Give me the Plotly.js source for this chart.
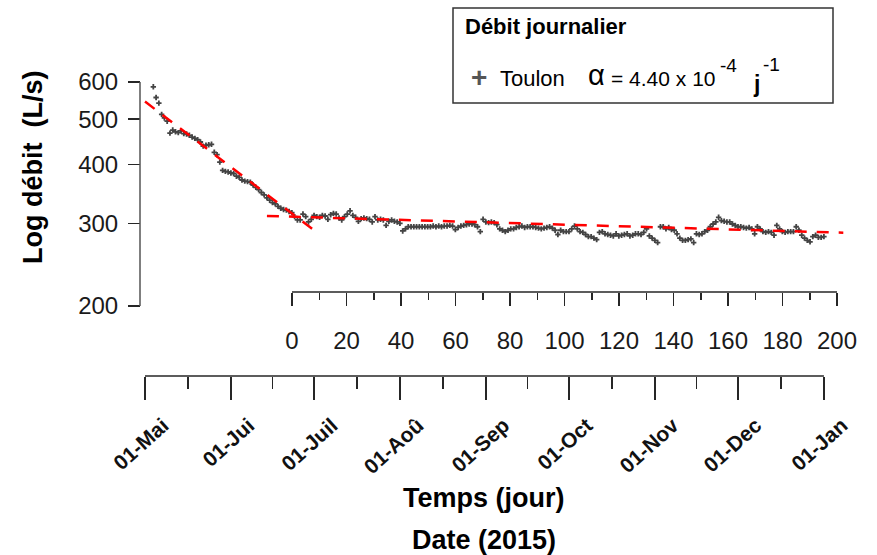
<!DOCTYPE html>
<html>
<head>
<meta charset="utf-8">
<script src="https://cdn.plot.ly/plotly-3.0.1.min.js"></script>
<style>html,body{margin:0;padding:0;background:#fff;}#chart{width:877px;height:555px;}</style>
</head>
<body>
<div id="chart"></div>
<script>
// ---- data (daily discharge, L/s), day 0 = 01 May 2015 ----
const firstDay = 3;
const discharge = [
 586,556,541,512,503,495,467,474,470,468,472,466,465,462,458,455,452,447,438,440,
 441,442,425,420,405,389,387,386,384,383,378,376,371,369,368,367,362,358,354,349,
 345,340,336,332,330,326,323,321,320,318,316,310,305,305,314,310,302,306,312,310,
 309,312,311,306,313,315,314,308,305,310,314,319,312,309,303,307,308,307,306,302,
 310,305,306,305,297,303,305,303,302,300,289,292,295,295,295,295,295,295,295,295,
 295,296,295,296,295,296,296,297,296,291,294,296,297,298,299,299,298,295,288,306,
 302,301,302,301,298,292,290,288,290,292,292,294,295,296,294,295,295,295,294,293,
 292,293,294,295,293,290,284,290,288,288,288,292,296,292,288,287,284,281,281,279,
 277,287,288,285,284,283,282,285,282,283,284,285,282,283,285,285,284,287,292,282,
 279,276,273,295,295,292,294,291,290,285,279,276,276,277,278,273,285,284,285,288,
 290,295,299,302,309,304,303,302,302,299,297,295,295,294,293,294,292,285,295,292,
 288,287,288,287,283,297,292,288,287,288,288,288,295,290,283,279,276,274,281,283,
 280,280,281
];
const days = discharge.map((_, i) => firstDay + i);

// recession fits (red dashed lines)
const fit1Days = [0, 61.3];
const fit1Q = [545, 289];
const fit2Days = [44, 252];
const fit2Q = [311, 286.5];

// axes ticks
const yTicks = [200, 300, 400, 500, 600];
const dayTicks = [0, 20, 40, 60, 80, 100, 120, 140, 160, 180, 200];
const dayMinor = [10, 30, 50, 70, 90, 110, 130, 150, 170, 190];
const monthTicks = [0, 31, 61, 92, 123, 153, 184, 214, 245];
const monthLabels = ["01-Mai", "01-Jui", "01-Juil", "01-Aoû", "01-Sep", "01-Oct", "01-Nov", "01-Dec", "01-Jan"];
const monthMinor = [15.5, 46, 76.5, 107.5, 138, 168.5, 199, 229.5];

// ---- layout helpers (pixel -> paper) ----
const W = 877, H = 555;
const px = v => v / W;
const py = v => 1 - v / H;
const FONT = "Liberation Sans, Arial, Helvetica, sans-serif";
const AX = "#262626";

function ann(text, x, y, size, opts) {
  return Object.assign({
    xref: "paper", yref: "paper", x: px(x), y: py(y), text: text,
    showarrow: false, xanchor: "center", yanchor: "middle",
    font: {family: FONT, size: size, color: "#000"}
  }, opts || {});
}

const traces = [
  {x: days, y: discharge, type: "scatter", mode: "markers", xaxis: "x", yaxis: "y",
   marker: {symbol: "cross", size: 4.5, color: "#444", line: {width: 0}},
   hoverinfo: "x+y", showlegend: false},
  {x: fit1Days, y: fit1Q, type: "scatter", mode: "lines", xaxis: "x", yaxis: "y",
   line: {color: "#ff0000", width: 2.5, dash: "12px,10px"}, showlegend: false},
  {x: fit2Days, y: fit2Q, type: "scatter", mode: "lines", xaxis: "x", yaxis: "y",
   line: {color: "#ff0000", width: 2.5, dash: "12px,10px"}, showlegend: false}
];

const layout = {
  width: W, height: H,
  margin: {l: 0, r: 0, t: 0, b: 0, pad: 0},
  paper_bgcolor: "#fff", plot_bgcolor: "rgba(0,0,0,0)",
  showlegend: false,
  font: {family: FONT, color: "#1a1a1a"},
  xaxis: {
    domain: [0, 1], range: [-52.33, 264.16], anchor: "free", position: py(376),
    side: "bottom", showgrid: false, zeroline: false, showline: false,
    tickmode: "array", tickvals: monthTicks, ticktext: monthLabels,
    ticks: "outside", ticklen: 23, tickwidth: 1.5, tickcolor: AX,
    tickangle: -42, ticklabelshift: 18, ticklabelstandoff: 5,
    tickfont: {family: FONT, size: 21, weight: "bold", color: "#111"},
    minor: {tickmode: "array", tickvals: monthMinor, ticks: "outside", ticklen: 12, tickwidth: 1.5, tickcolor: AX, showgrid: false},
    automargin: false, fixedrange: true
  },
  xaxis2: {
    domain: [0, 1], range: [-107.16, 214.68], anchor: "free", position: py(292),
    overlaying: "x", side: "bottom", showgrid: false, zeroline: false, showline: false,
    tickmode: "array", tickvals: dayTicks, ticktext: dayTicks.map(String),
    ticks: "outside", ticklen: 13, tickwidth: 1.5, tickcolor: AX,
    ticklabelstandoff: 14,
    tickfont: {family: FONT, size: 24, color: "#1a1a1a"},
    minor: {tickmode: "array", tickvals: dayMinor, ticks: "outside", ticklen: 7, tickwidth: 1.5, tickcolor: AX, showgrid: false},
    automargin: false, fixedrange: true
  },
  yaxis: {
    domain: [0, 1], type: "log", range: [1.77068, 2.95279], anchor: "free", position: px(140),
    showgrid: false, zeroline: false, showline: false,
    tickmode: "array", tickvals: yTicks, ticktext: yTicks.map(String),
    ticks: "outside", ticklen: 12, tickwidth: 1.5, tickcolor: AX,
    ticklabelstandoff: 5,
    tickfont: {family: FONT, size: 24, color: "#1a1a1a"},
    automargin: false, fixedrange: true
  },
  shapes: [
    // axis lines spanning only the tick range (R style)
    {type: "line", xref: "paper", yref: "paper", x0: px(140), x1: px(140), y0: py(306), y1: py(82), line: {color: "#555", width: 1.5}},
    {type: "line", xref: "x2", yref: "paper", x0: dayTicks[0], x1: dayTicks[dayTicks.length - 1], y0: py(292), y1: py(292), line: {color: AX, width: 1.5}},
    {type: "line", xref: "x", yref: "paper", x0: monthTicks[0], x1: monthTicks[monthTicks.length - 1], y0: py(376), y1: py(376), line: {color: AX, width: 1.5}},
    // legend box
    {type: "rect", xref: "paper", yref: "paper", x0: px(453), x1: px(833), y0: py(103), y1: py(8), line: {color: "#333", width: 1.5}, fillcolor: "rgba(0,0,0,0)"}
  ],
  annotations: [
    ann("<b>Log débit  (L/s)</b>", 33, 168, 27, {textangle: -90}),
    ann("<b>Temps (jour)</b>", 484, 498, 27),
    ann("<b>Date (2015)</b>", 484, 540, 27),
    ann("<b>Débit journalier</b>", 463, 27, 22, {xanchor: "left"}),
    ann("<b>+</b>", 479, 77, 28, {font: {family: FONT, size: 28, color: "#555"}}),
    ann("Toulon", 498, 78, 22, {xanchor: "left"}),
    ann("α", 586, 75, 29, {xanchor: "left"}),
    ann("= 4.40 x 10", 609, 78, 21, {xanchor: "left"}),
    ann("-4", 718, 65, 19, {xanchor: "left"}),
    ann("<b>j</b>", 751, 84, 23, {xanchor: "left"}),
    ann("-1", 761, 64, 19, {xanchor: "left"})
  ]
};

Plotly.newPlot("chart", traces, layout, {displayModeBar: false, staticPlot: true});
</script>
</body>
</html>
